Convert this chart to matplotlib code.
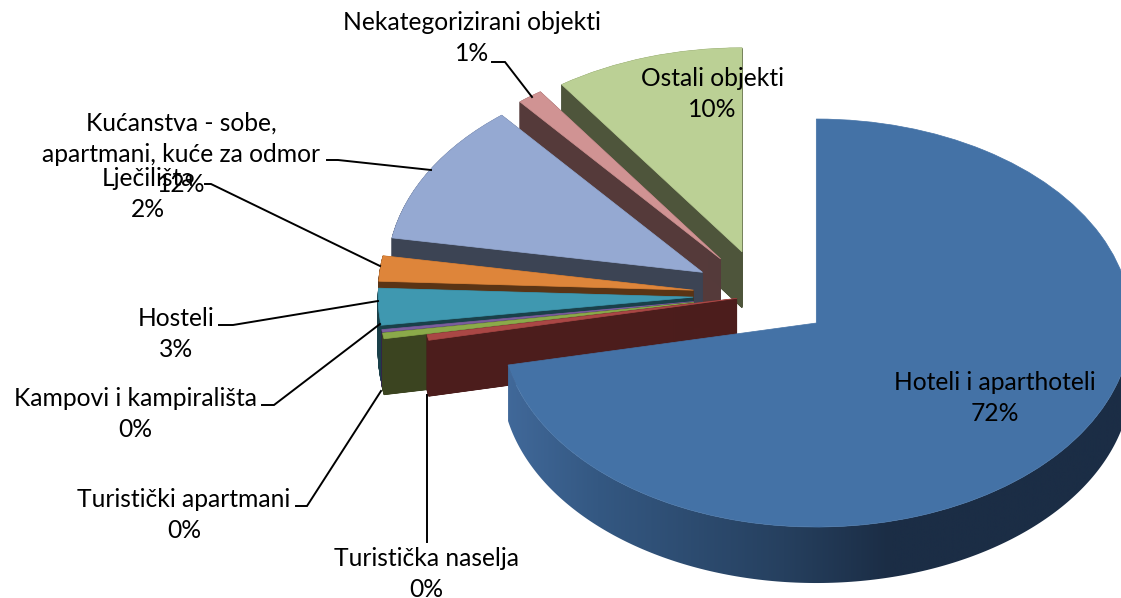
import numpy as np
import matplotlib
matplotlib.use('Agg')
import matplotlib.pyplot as plt
from matplotlib.colors import LinearSegmentedColormap
from matplotlib.patches import Polygon

plt.rcParams['font.family'] = ['Lato', 'DejaVu Sans']

# clockwise from 12 o'clock
categories = ['Hoteli i aparthoteli', 'Turistička naselja', 'Turistički apartmani',
              'Kampovi i kampirališta', 'Hosteli', 'Lječilišta',
              'Kućanstva - sobe,\napartmani, kuće za odmor',
              'Nekategorizirani objekti', 'Ostali objekti']
values = [71.7, 0.45, 0.45, 0.2, 2.9, 2.0, 11.3, 1.3, 9.7]
percent_labels = ['72%', '0%', '0%', '0%', '3%', '2%', '12%', '1%', '10%']

# styles
explode = [0.218, 0.084, 0.222, 0.222, 0.222, 0.222, 0.222, 0.222, 0.222]
top_colors = ['#4472A6', '#AA4745', '#8BAA4A', '#7B5E9E', '#3F98B0',
              '#DE853A', '#95A9D2', '#D09393', '#BBD095']
wall_colors = ['#2A4566', '#4C1D1C', '#3B4420', '#32264A', '#1A4049',
               '#5A3415', '#3C4454', '#553A3A', '#4E553B']
# painter's order, higher is in front
draw_rank = [8, 7, 6, 5, 4, 3, 2, 1, 0]

# label centre and line positions in picture pixels
label_pos = [(995, 398), (426, 574), (184, 515), (135, 414), (176, 334),
             (148, 194), (181, 154), (472, 38), (712, 94)]
leaders = [None,
           [(427, 395), (427, 542)],
           [(296, 506), (307, 506), (381, 391)],
           [(262, 405), (274, 405), (380, 324)],
           [(219, 325), (233, 325), (378, 301)],
           [(205, 184), (211, 184), (380, 266)],
           [(327, 160), (338, 160), (431, 170)],
           [(492, 62), (505, 62), (532, 97)],
           None]

CX, CY = 763, 295
RX, RY = 315, 204
DEPTH = 56
STEPS = DEPTH * 4  # thin slices leave gaps with one layer per pixel


def px(x, y):
    return (x - CX) / RX, (CY - y) / RY


fig = plt.figure(figsize=(11.21, 5.98), dpi=100)
ax = fig.add_axes([0, 0, 1, 1])

# extrude: stack of pies going upward to the top surface
for k in range(STEPS):
    d = DEPTH * (1 - k / STEPS)
    wedges, _ = ax.pie(values, explode=explode, startangle=90, counterclock=False,
                       colors=wall_colors, center=(0, -d / RY),
                       wedgeprops={'linewidth': 0.5})
    for i, w in enumerate(wedges):
        w.set_edgecolor(wall_colors[i])
        w.set_joinstyle('bevel')
        w.set_zorder(draw_rank[i] * 1000 + k / STEPS * 900)
        if i == 0:
            w.set_visible(False)

top, _ = ax.pie(values, explode=explode, startangle=90, counterclock=False,
                colors=top_colors, wedgeprops={'linewidth': 0.5})
for i, w in enumerate(top):
    w.set_edgecolor(top_colors[i])
    w.set_joinstyle('bevel')
    w.set_zorder(draw_rank[i] * 1000 + 950)

# side of the big slice with its shading
big = top[0]
cx0, cy0 = big.center
th = np.radians(np.linspace(big.theta1, 0, 200))
arc = np.column_stack([cx0 + np.cos(th), cy0 + np.sin(th)])
low = arc - [0, DEPTH / RY]
wall = Polygon(np.vstack([arc, low[::-1]]), closed=True, transform=ax.transData,
               facecolor='none', edgecolor='none')
ax.add_patch(wall)
shade = LinearSegmentedColormap.from_list('wall', [(0, '#41699A'), (0.15, '#345882'),
                                                   (0.45, '#26405F'), (0.62, '#1B2D45'),
                                                   (1, '#1B2D45')], N=1024)
x0, _ = px(505, 0)
x1, _ = px(1125, 0)
y0, y1 = px(0, 600)[1], px(0, 300)[1]
im = ax.imshow(np.linspace(0, 1, 1024).reshape(1, -1), cmap=shade, aspect='auto',
               extent=(x0, x1, y0, y1), zorder=draw_rank[0] * 1000 + 500)
im.set_clip_path(wall)

for i, name in enumerate(categories):
    lx, ly = px(*label_pos[i])
    ax.text(lx, ly, name + '\n' + percent_labels[i], ha='center', va='center',
            fontsize=17.7, linespacing=1.42, color='black', zorder=20000)
    if leaders[i] is not None:
        pts = np.array([px(*p) for p in leaders[i]])
        ax.plot(pts[:, 0], pts[:, 1], color='black', lw=1.4, zorder=15000,
                solid_joinstyle='miter')

ax.set_aspect('auto')
ax.set_xlim(px(0, 0)[0], px(1121, 0)[0])
ax.set_ylim(px(0, 598)[1], px(0, 0)[1])
ax.axis('off')

fig.savefig('out.png', dpi=100)
